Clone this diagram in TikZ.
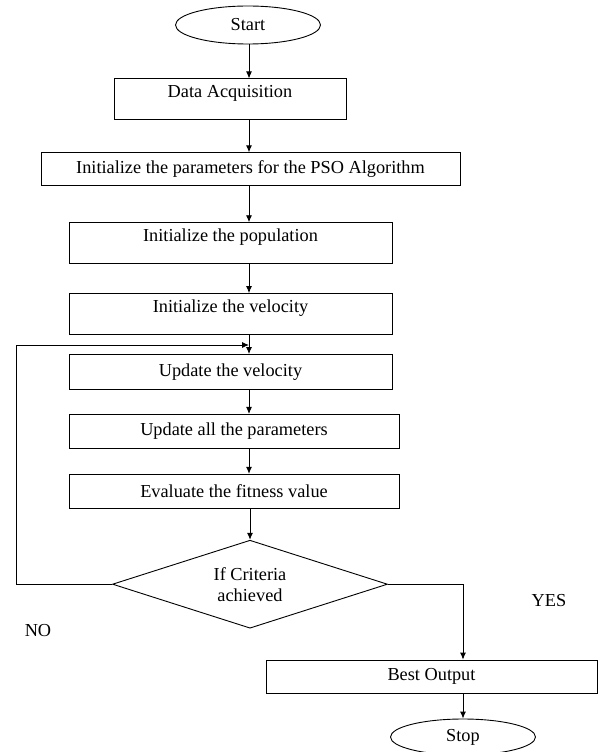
\documentclass[tikz,border=0pt]{standalone}
\usepackage{fontspec}
\setmainfont{Liberation Serif}
\usepackage{tikz}
\usetikzlibrary{positioning}
\usetikzlibrary{shapes.geometric,arrows.meta}
\tikzstyle{flow edge}=[-{Latex[length=7pt,width=6pt]},line width=0.9pt]
\tikzstyle{flow box}=[draw,line width=0.9pt,rectangle,minimum height=34pt,inner sep=0pt]
\tikzstyle{tall box}=[flow box,text height=13pt,text depth=16pt,inner ysep=6pt]
\tikzstyle{terminal}=[draw,line width=0.9pt,ellipse,minimum width=145pt,minimum height=38pt,inner sep=0pt]
\tikzstyle{decision}=[draw,line width=0.9pt,diamond,aspect=3.1,minimum width=275pt,minimum height=88pt,inner sep=0pt,align=center]
\newcommand{\boxnode}[3][]{
  \node [flow box, #1] (#2) {#3}
}
\newcommand{\termnode}[3][]{
  \node [terminal, #1] (#2) {#3}
}

\begin{document}
\begin{tikzpicture}[x=1pt,y=-1pt,font=\fontsize{18.3}{21}\selectfont]
        \useasboundingbox[fill=white] (0,0) rectangle (598,752);
        \coordinate (axis) at (249,0);
        \coordinate (loopturn) at (16,345);

        \termnode[at={(248,25)}]{start}{Start};
        \boxnode[tall box, below=34pt of start, xshift=-18pt, minimum width=232pt]{data}{Data Acquisition};
        \boxnode[below=32pt of data, xshift=20.5pt, minimum width=419pt, minimum height=33pt]{params}{Initialize the parameters for the PSO Algorithm};
                \boxnode[tall box, below=36pt of params, xshift=-20pt, minimum width=323pt]{pop}{Initialize the population};
                \boxnode[tall box, below=29pt of pop, minimum width=323pt]{vel}{Initialize the velocity};
        \boxnode[below=19pt of vel, minimum width=323pt, minimum height=35pt]{updvel}{Update the velocity};
        \boxnode[below=24pt of updvel, xshift=3.5pt, minimum width=330pt]{updall}{Update all the parameters};
        \boxnode[below=25pt of updall, minimum width=330pt]{eval}{Evaluate the fitness value};
        \node [decision, below=31pt of eval, xshift=16pt] (crit) {If Criteria\\achieved};
        \boxnode[below=31pt of crit, xshift=181.5pt, minimum width=331pt, minimum height=33pt]{best}{Best Output};
        \termnode[below=25pt of best, xshift=31.5pt, minimum height=36pt]{stop}{Stop};

        \node (yes) at (549,601) {YES};
        \node (no) at (38,631) {NO};

            \draw[flow edge] (start.south -| axis) -- (data.north -| axis);
            \draw[flow edge] (data.south -| axis) -- (params.north -| axis);
            \draw[flow edge] (params.south -| axis) -- (pop.north -| axis);
            \draw[flow edge] (pop.south -| axis) -- (vel.north -| axis);
            \draw[flow edge] (vel.south -| axis) -- (updvel.north -| axis);
            \draw[flow edge] (updvel.south -| axis) -- (updall.north -| axis);
            \draw[flow edge] (updall.south -| axis) -- (eval.north -| axis);
            \draw[flow edge] (eval.south -| crit.north) -- (crit.north);

            \draw[flow edge] (crit.west) -| (loopturn) -- (loopturn -| axis);
            \draw[flow edge] (crit.east) -| (stop.north |- best.north);
            \draw[flow edge] (best.south -| stop.north) -- (stop.north);
        \end{tikzpicture}
\end{document}
